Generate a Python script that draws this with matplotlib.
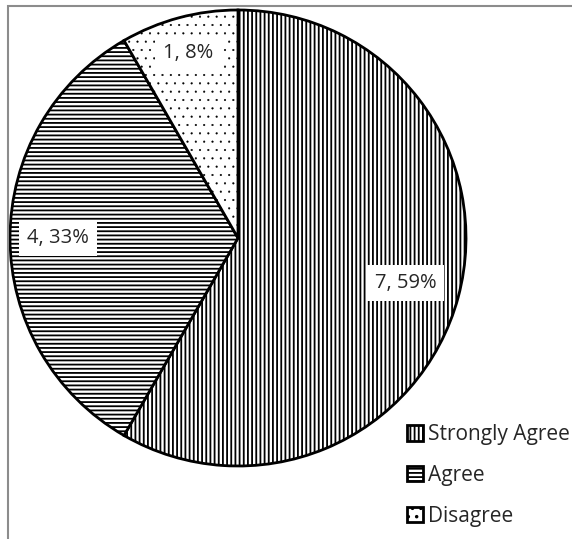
import matplotlib.pyplot as plt
from matplotlib.patches import Rectangle
import numpy as np

plt.rcParams['font.family'] = ['Open Sans', 'DejaVu Sans']
plt.rcParams['hatch.linewidth'] = 1.3

categories = ['Strongly Agree', 'Agree', 'Disagree']
counts = [7, 4, 1]
percent_labels = ['59%', '33%', '8%']
hatches = ['||||', '----', '..']
hatch_widths = [1.3, 1.3, 0.3]
label_dist = [0.76, 0.79, 0.84]

fig = plt.figure(figsize=(5.72, 5.39), dpi=100)
ax = fig.add_axes([10 / 572, 73 / 539, 456 / 572, 456 / 539])

wedges, _ = ax.pie(counts, startangle=90, counterclock=False, radius=1,
                   colors=['white'] * 3,
                   wedgeprops=dict(edgecolor='black', linewidth=2.0))
for w, h, hw in zip(wedges, hatches, hatch_widths):
    w.set_hatch(h)
    if hasattr(w, 'set_hatch_linewidth'):
        w.set_hatch_linewidth(hw)

# value labels in white boxes, placed along each slice's middle angle
for w, n, pct, d in zip(wedges, counts, percent_labels, label_dist):
    mid = np.deg2rad((w.theta1 + w.theta2) / 2)
    ax.text(d * np.cos(mid), d * np.sin(mid), f'{n}, {pct}',
            ha='center', va='center', fontsize=14.5, color='#262626',
            bbox=dict(facecolor='white', edgecolor='none', pad=6))

ax.set_xlim(-1, 1)
ax.set_ylim(-1, 1)
ax.set_aspect('equal')
ax.axis('off')

leg = ax.legend(wedges, categories, loc='upper left',
                bbox_to_anchor=(399 / 572, 1 - 416 / 539),
                bbox_transform=fig.transFigure, frameon=False,
                fontsize=15, handlelength=0.75, handleheight=0.75,
                handletextpad=0.25, labelspacing=0.95, borderaxespad=0)
for t in leg.get_texts():
    t.set_color('#262626')

# gray chart-area border running off the right and bottom edges
fig.add_artist(Rectangle((8 / 572, -0.5), 2, 1.5 - 6 / 539,
                         transform=fig.transFigure, fill=False,
                         edgecolor='#8c8c8c', linewidth=1.5))

fig.savefig('out.png', dpi=100)
